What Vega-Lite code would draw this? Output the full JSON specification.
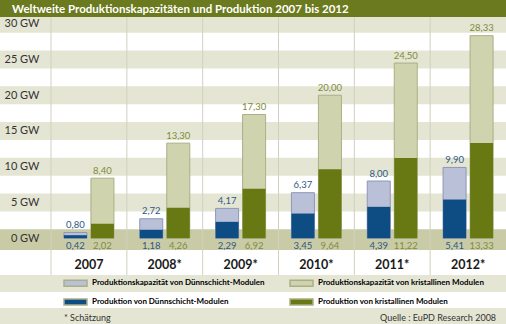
{
  "$schema": "https://vega.github.io/schema/vega-lite/v6.json",
  "width": 506,
  "height": 324,
  "autosize": "none",
  "padding": 0,
  "background": "white",
  "config": {
    "view": {"stroke": null},
    "font": "Lato, sans-serif",
    "locale": {"number": {"decimal": ",", "thousands": ".", "grouping": [3], "currency": ["", " €"]}}
  },
  "title": {
    "text": "Weltweite Produktionskapazitäten und Produktion 2007 bis 2012",
    "anchor": "start",
    "frame": "group",
    "offset": -15,
    "dx": 12,
    "color": "white",
    "fontSize": 11.5,
    "fontWeight": "bold",
    "font": "Lato, sans-serif"
  },
  "datasets": {
    "bars": [
      {"year": "2007", "tech": "Dünnschicht", "measure": "Kapazität", "value": 0.80, "series": "Produktionskapazität von Dünnschicht-Modulen"},
      {"year": "2007", "tech": "kristallin", "measure": "Kapazität", "value": 8.40, "series": "Produktionskapazität von kristallinen Modulen"},
      {"year": "2008*", "tech": "Dünnschicht", "measure": "Kapazität", "value": 2.72, "series": "Produktionskapazität von Dünnschicht-Modulen"},
      {"year": "2008*", "tech": "kristallin", "measure": "Kapazität", "value": 13.30, "series": "Produktionskapazität von kristallinen Modulen"},
      {"year": "2009*", "tech": "Dünnschicht", "measure": "Kapazität", "value": 4.17, "series": "Produktionskapazität von Dünnschicht-Modulen"},
      {"year": "2009*", "tech": "kristallin", "measure": "Kapazität", "value": 17.30, "series": "Produktionskapazität von kristallinen Modulen"},
      {"year": "2010*", "tech": "Dünnschicht", "measure": "Kapazität", "value": 6.37, "series": "Produktionskapazität von Dünnschicht-Modulen"},
      {"year": "2010*", "tech": "kristallin", "measure": "Kapazität", "value": 20.00, "series": "Produktionskapazität von kristallinen Modulen"},
      {"year": "2011*", "tech": "Dünnschicht", "measure": "Kapazität", "value": 8.00, "series": "Produktionskapazität von Dünnschicht-Modulen"},
      {"year": "2011*", "tech": "kristallin", "measure": "Kapazität", "value": 24.50, "series": "Produktionskapazität von kristallinen Modulen"},
      {"year": "2012*", "tech": "Dünnschicht", "measure": "Kapazität", "value": 9.90, "series": "Produktionskapazität von Dünnschicht-Modulen"},
      {"year": "2012*", "tech": "kristallin", "measure": "Kapazität", "value": 28.33, "series": "Produktionskapazität von kristallinen Modulen"},
      {"year": "2007", "tech": "Dünnschicht", "measure": "Produktion", "value": 0.42, "series": "Produktion von Dünnschicht-Modulen"},
      {"year": "2007", "tech": "kristallin", "measure": "Produktion", "value": 2.02, "series": "Produktion von kristallinen Modulen"},
      {"year": "2008*", "tech": "Dünnschicht", "measure": "Produktion", "value": 1.18, "series": "Produktion von Dünnschicht-Modulen"},
      {"year": "2008*", "tech": "kristallin", "measure": "Produktion", "value": 4.26, "series": "Produktion von kristallinen Modulen"},
      {"year": "2009*", "tech": "Dünnschicht", "measure": "Produktion", "value": 2.29, "series": "Produktion von Dünnschicht-Modulen"},
      {"year": "2009*", "tech": "kristallin", "measure": "Produktion", "value": 6.92, "series": "Produktion von kristallinen Modulen"},
      {"year": "2010*", "tech": "Dünnschicht", "measure": "Produktion", "value": 3.45, "series": "Produktion von Dünnschicht-Modulen"},
      {"year": "2010*", "tech": "kristallin", "measure": "Produktion", "value": 9.64, "series": "Produktion von kristallinen Modulen"},
      {"year": "2011*", "tech": "Dünnschicht", "measure": "Produktion", "value": 4.39, "series": "Produktion von Dünnschicht-Modulen"},
      {"year": "2011*", "tech": "kristallin", "measure": "Produktion", "value": 11.22, "series": "Produktion von kristallinen Modulen"},
      {"year": "2012*", "tech": "Dünnschicht", "measure": "Produktion", "value": 5.41, "series": "Produktion von Dünnschicht-Modulen"},
      {"year": "2012*", "tech": "kristallin", "measure": "Produktion", "value": 13.33, "series": "Produktion von kristallinen Modulen"}
    ],
    "stripes": [
      {"from": 3.75, "to": 6.25},
      {"from": 8.75, "to": 11.25},
      {"from": 13.75, "to": 16.25},
      {"from": 18.75, "to": 21.25},
      {"from": 23.75, "to": 26.25},
      {"from": 28.75, "to": 31.25},
      {"from": -5.14, "to": -7.52},
      {"from": -9.76, "to": -12}
    ]
  },
  "data": {"name": "bars"},
  "layer": [
    {
      "data": {"name": "stripes"},
      "mark": {"type": "rect", "color": "#e4e6d3"},
      "encoding": {
        "x": {"value": 0},
        "x2": {"value": "width"},
        "y": {"field": "from", "type": "quantitative", "scale": {"domain": [-12, 33.32], "nice": false, "zero": false},
              "axis": {"orient": "left", "offset": -40, "values": [0, 5, 10, 15, 20, 25, 30], "labelExpr": "datum.value + ' GW'",
                       "title": null, "ticks": false, "domain": false, "grid": false, "labelPadding": 1,
                       "labelFontSize": 11, "labelColor": "#333333", "zindex": 1}},
        "y2": {"field": "to"}
      }
    },
    {
      "data": {"values": [{}]},
      "mark": {"type": "rect", "color": "#c9cba6"},
      "encoding": {
        "x": {"value": 0},
        "x2": {"value": "width"},
        "y": {"datum": 1.25, "type": "quantitative"},
        "y2": {"datum": -1.64}
      }
    },
    {
      "data": {"values": [{}]},
      "mark": {"type": "rect", "color": "#6b7a1e"},
      "encoding": {
        "x": {"value": 0},
        "x2": {"value": "width"},
        "y": {"datum": 33.32, "type": "quantitative"},
        "y2": {"datum": 30.94}
      }
    },
    {
      "transform": [{"filter": "datum.tech === 'Dünnschicht' && datum.measure === 'Kapazität'"}],
      "mark": {"type": "rule", "color": "#d0d1bf", "strokeWidth": 1},
      "encoding": {
        "x": {"field": "year", "type": "nominal", "bandPosition": 0, "sort": null,
              "scale": {"paddingInner": 0, "paddingOuter": 0.3364, "align": 1},
              "axis": {"orient": "bottom", "offset": -66, "title": null, "ticks": false, "domain": false, "labelAngle": 0,
                       "labelPadding": 0, "labelFontSize": 12.5, "labelFontWeight": "bold", "labelColor": "#1a1a1a", "zindex": 1}},
        "y": {"datum": 30.94, "type": "quantitative"},
        "y2": {"datum": -5.14}
      }
    },
    {
      "transform": [{"filter": "datum.measure === 'Kapazität'"}],
      "mark": {"type": "bar", "strokeWidth": 1},
      "encoding": {
        "x": {"field": "year", "type": "nominal", "sort": null},
        "xOffset": {"field": "tech", "type": "nominal", "scale": {"paddingInner": 0.148, "paddingOuter": 0.478}},
        "y": {"field": "value", "type": "quantitative"},
        "color": {"field": "series", "type": "nominal",
                  "scale": {"domain": ["Produktionskapazität von Dünnschicht-Modulen", "Produktionskapazität von kristallinen Modulen", "Produktion von Dünnschicht-Modulen", "Produktion von kristallinen Modulen"],
                            "range": ["#b9c0d8", "#cfd3ae", "#0e4d83", "#687914"]},
                  "legend": {"orient": "none", "legendX": 63, "legendY": 270.5, "columns": 2, "direction": "horizontal", "columnPadding": 22, "rowPadding": -2.5,
                             "title": null, "padding": 0, "symbolType": "M-1,-0.26H1V0.26H-1Z", "symbolSize": 529,
                             "labelFontSize": 8, "labelFontWeight": "bold", "labelOffset": 4, "labelLimit": 300,
                             "encode": {"symbols": {"update": {"stroke": {"signal": "indexOf(datum.value,'kristall')>=0 ? '#aab086' : '#8e97b7'"}, "strokeWidth": {"value": 1}}},
                                        "labels": {"update": {"fill": {"signal": "indexOf(datum.value,'kristall')>=0 ? '#7b8a2a' : '#245a8e'"}}}}}},
        "stroke": {"condition": {"test": "datum.tech === 'Dünnschicht'", "value": "#8e97b7"}, "value": "#aab086"}
      }
    },
    {
      "transform": [{"filter": "datum.measure === 'Produktion'"}],
      "mark": {"type": "bar"},
      "encoding": {
        "x": {"field": "year", "type": "nominal", "sort": null},
        "xOffset": {"field": "tech", "type": "nominal"},
        "y": {"field": "value", "type": "quantitative"},
        "color": {"field": "series", "type": "nominal"}
      }
    },
    {
      "transform": [{"filter": "datum.measure === 'Kapazität'"}],
      "mark": {"type": "text", "baseline": "bottom", "dy": -2.5, "fontSize": 9.5},
      "encoding": {
        "x": {"field": "year", "type": "nominal", "sort": null},
        "xOffset": {"field": "tech", "type": "nominal"},
        "y": {"field": "value", "type": "quantitative"},
        "text": {"field": "value", "type": "quantitative", "format": ".2f"},
        "color": {"condition": {"test": "datum.tech === 'Dünnschicht'", "value": "#2d5887"}, "value": "#7f8b3b"}
      }
    },
    {
      "transform": [{"filter": "datum.measure === 'Produktion'"}],
      "mark": {"type": "text", "baseline": "top", "dy": 2.5, "fontSize": 9.5},
      "encoding": {
        "x": {"field": "year", "type": "nominal", "sort": null},
        "xOffset": {"field": "tech", "type": "nominal"},
        "y": {"datum": 0, "type": "quantitative"},
        "text": {"field": "value", "type": "quantitative", "format": ".2f"},
        "color": {"condition": {"test": "datum.tech === 'Dünnschicht'", "value": "#2d5887"}, "value": "#7f8b3b"}
      }
    },
    {
      "data": {"values": [{}]},
      "mark": {"type": "text", "align": "left", "baseline": "middle", "dx": -25, "fontSize": 9, "color": "#333333", "text": "* Schätzung"},
      "encoding": {
        "x": {"datum": "2007", "type": "nominal"},
        "y": {"datum": -11.1, "type": "quantitative"}
      }
    },
    {
      "data": {"values": [{}]},
      "mark": {"type": "text", "align": "right", "baseline": "middle", "dx": 28, "fontSize": 9, "color": "#333333", "text": "Quelle : EuPD Research 2008"},
      "encoding": {
        "x": {"datum": "2012*", "type": "nominal"},
        "y": {"datum": -11.1, "type": "quantitative"}
      }
    }
  ]
}
